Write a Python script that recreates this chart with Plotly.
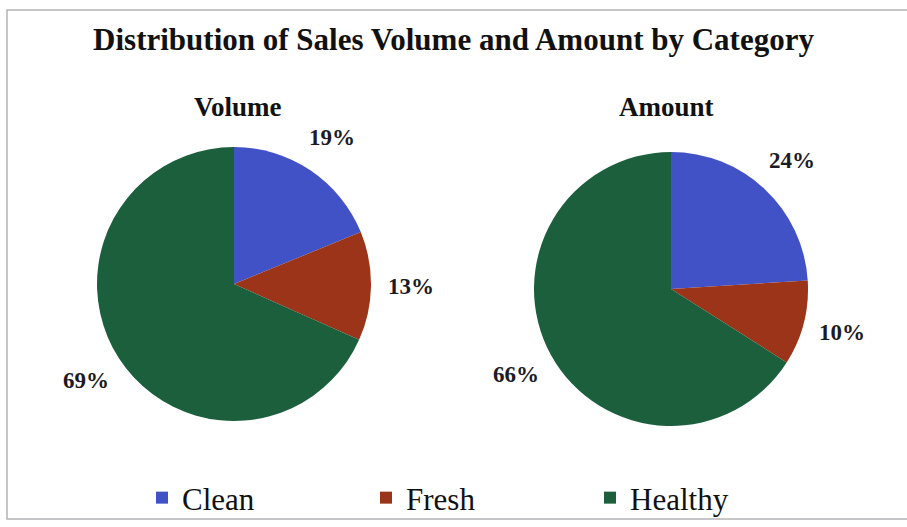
import math
import plotly.graph_objects as go

# Category data
categories = ["Clean", "Fresh", "Healthy"]
volume_pct = [19, 13, 69]
amount_pct = [24, 10, 66]
colors = ["#4152c6", "#9b3418", "#1c5f3d"]

W, H = 907, 527
SERIF = "Liberation Serif, Times New Roman, serif"

# Pie placement in pixels: (center x, center y, radius)
pies = {
    "Volume": (234, 284, 137, volume_pct),
    "Amount": (671, 289, 137, amount_pct),
}
LABEL_DIST = 1.29  # label distance from center, in radii

fig = go.Figure()
annotations = []

for i, (name, (cx, cy, r, vals)) in enumerate(pies.items()):
    fig.add_trace(go.Pie(
        labels=categories,
        values=vals,
        name=name,
        sort=False,
        direction="clockwise",
        rotation=0,
        marker=dict(colors=colors, line=dict(width=0)),
        textinfo="none",
        hoverinfo="label+percent",
        showlegend=(i == 0),
        domain=dict(x=[(cx - r) / W, (cx + r) / W],
                    y=[1 - (cy + r) / H, 1 - (cy - r) / H]),
    ))
    # percentage labels placed outside each slice at its mid-angle
    total = sum(vals)
    cum = 0
    for v in vals:
        mid = (cum + v / 2) / total * 2 * math.pi
        cum += v
        px = cx + LABEL_DIST * r * math.sin(mid)
        py = cy - LABEL_DIST * r * math.cos(mid)
        annotations.append(dict(
            x=px / W, y=1 - py / H, xref="paper", yref="paper",
            xanchor="center", yanchor="middle",
            text=f"<b>{v}%</b>", showarrow=False,
            font=dict(family=SERIF, size=23, color="#1b1b24"),
        ))
    # subplot caption
    annotations.append(dict(
        x=(cx + (4 if i == 0 else -5)) / W, y=1 - 107 / H,
        xref="paper", yref="paper",
        xanchor="center", yanchor="middle",
        text=f"<b>{name}</b>", showarrow=False,
        font=dict(family=SERIF, size=27, color="#111111"),
    ))

fig.update_layout(
    width=W, height=H,
    margin=dict(l=0, r=0, t=0, b=0, autoexpand=False),
    paper_bgcolor="white",
    plot_bgcolor="white",
    title=dict(
        text="<b>Distribution of Sales Volume and Amount by Category</b>",
        x=0.5, xanchor="center", y=1 - 39 / H, yanchor="middle",
        font=dict(family=SERIF, size=31, color="#111111"),
    ),
    annotations=annotations,
    legend=dict(
        orientation="h",
        x=142 / W, xanchor="left",
        y=1 - 498 / H, yanchor="middle",
        entrywidth=179, entrywidthmode="pixels",
        itemwidth=30,
        font=dict(family=SERIF, size=31, color="#111111"),
        bgcolor="rgba(0,0,0,0)",
    ),
    shapes=[dict(
        type="rect", xref="paper", yref="paper",
        x0=7 / W, x1=1.01, y0=1 - 519 / H, y1=1 - 10 / H,
        line=dict(color="#b4b4b8", width=1.5),
    )],
)

fig.write_html("out.html")
